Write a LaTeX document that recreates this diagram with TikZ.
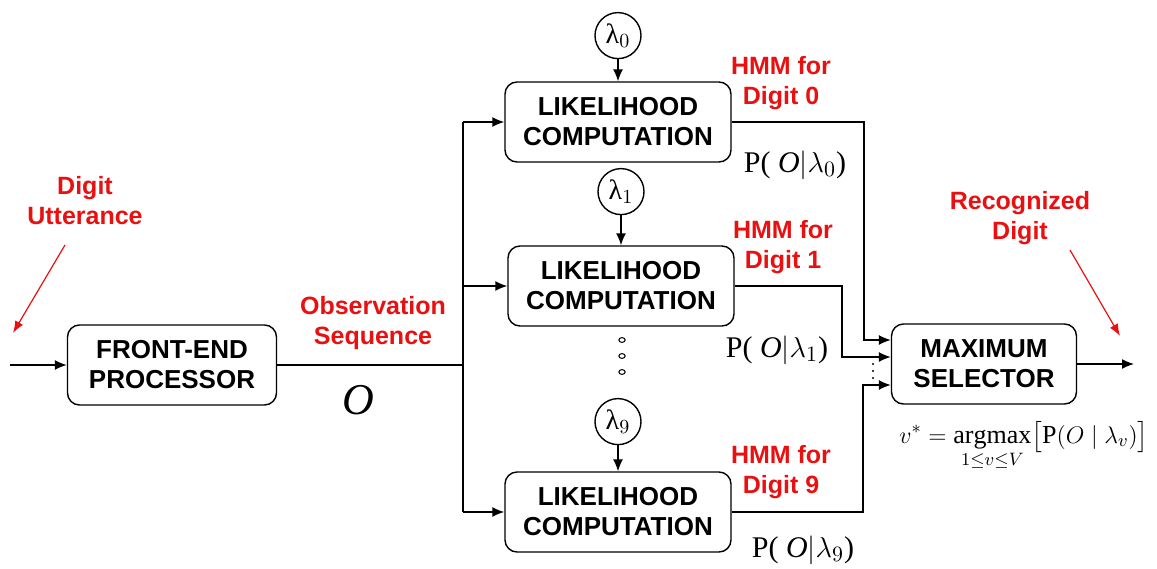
\documentclass[tikz,border=0pt]{standalone}
\usepackage{amsmath,amssymb}
\usepackage{fontspec}
\setmainfont{Liberation Serif}
\newfontfamily\headfont{Liberation Sans}
\usetikzlibrary{positioning,arrows.meta}
\definecolor{hmmred}{RGB}{232,16,16}

\begin{document}
\begin{tikzpicture}[x=0.5pt,y=-0.5pt,line width=0.7pt,
  box/.style={draw,rounded corners=6pt,align=center,minimum height=40pt,inner sep=2pt,
    font=\headfont\bfseries\fontsize{13}{15}\selectfont},
  lam/.style={draw,circle,minimum size=23pt,inner sep=0pt,font=\fontsize{14}{16}\selectfont},
  tag/.style={text=hmmred,align=center,font=\headfont\bfseries\fontsize{12.5}{15}\selectfont},
  prob/.style={font=\fontsize{15}{18}\selectfont},
  arr/.style={-{Latex[length=6pt,width=5pt]}},
  redarr/.style={hmmred,line width=0.6pt,-{Latex[length=6pt,width=4.5pt]}}]
\useasboundingbox (0,0) rectangle (1157,568);

% blocks
\node (fe) [box,minimum width=104.5pt] at (172,365) {FRONT-END\\PROCESSOR};
\node (lk0) [box,minimum width=113pt] at (618,122) {LIKELIHOOD\\COMPUTATION};
\node (lk1) [box,minimum width=113pt] at (621,286) {LIKELIHOOD\\COMPUTATION};
\node (lk9) [box,minimum width=113pt] at (618,512) {LIKELIHOOD\\COMPUTATION};
\node (ms) [box,minimum width=92.5pt] at (984,364) {MAXIMUM\\SELECTOR};

% models
\node (lam0) [lam,above=11pt of lk0] {λ$_0$};
\node (lam1) [lam,above=15pt of lk1] {λ$_1$};
\node (lam9) [lam,above=13pt of lk9] {λ$_9$};
\draw[arr] (lam0) -- (lk0);
\draw[arr] (lam1) -- (lk1);
\draw[arr] (lam9) -- (lk9);
\foreach \y in {340,356,372}
  \draw[line width=0.5pt] (622,\y) circle[x radius=1.6pt,y radius=1.2pt];

% observation bus
\coordinate (in) at (10,365);
\coordinate (btop) at (463,122);
\coordinate (bbot) at (463,512);
\draw[arr] (in) -- (fe.west);
\draw (fe.east) -- (fe.east -| btop);
\draw (btop) -- (bbot);
\draw[arr] (btop) -- (lk0.west);
\draw[arr] (btop |- lk1.west) -- (lk1.west);
\draw[arr] (bbot) -- (lk9.west);

% likelihoods into selector
\coordinate (c0) at (864,340);
\coordinate (c1) at (842,357);
\coordinate (c9) at (863,385);
\draw[arr] (lk0.east) -| (c0) -- (c0 -| ms.west);
\draw[arr] (lk1.east) -| (c1) -- (c1 -| ms.west);
\draw[arr] (lk9.east) -| (c9) -- (c9 -| ms.west);
\foreach \y in {364,371,378}
  \fill (873,\y) circle (0.6pt);
\coordinate (out) at (1134,364);
\draw[arr] (ms.east) -- (out);

% red labels
\node (utt) [tag] at (85,201) {Digit\\Utterance};
\node (obs) [tag] at (373,323) {Observation\\Sequence};
\node (rec) [tag] at (1020,218) {Recognized\\Digit};
\node (hmm0) [tag] at (781,83) {HMM for\\Digit 0};
\node (hmm1) [tag] at (783,247) {HMM for\\Digit 1};
\node (hmm9) [tag] at (781,472) {HMM for\\Digit 9};
\coordinate (u1) at (65,245);
\coordinate (u2) at (13,333);
\coordinate (r1) at (1070,250);
\coordinate (r2) at (1120,336);
\draw[redarr] (u1) -- (u2);
\draw[redarr] (r1) -- (r2);

% math
\node (oo) [font=\fontsize{22}{24}\selectfont] at (358,400) {\textit{O}};
\node (p0) [prob] at (795,165) {P( \textit{O}$|\lambda_0$)};
\node (p1) [prob] at (777,350) {P( \textit{O}$|\lambda_1$)};
\node (p9) [prob] at (803,550) {P( \textit{O}$|\lambda_9$)};
\node (vs) [font=\fontsize{13}{16}\selectfont] at (1024,446)
  {$\displaystyle v^{*}=\mathop{\mathrm{argmax}}\limits_{1\le v\le V}\bigl[\mathrm{P}(O\mid\lambda_v)\bigr]$};
\end{tikzpicture}
\end{document}
